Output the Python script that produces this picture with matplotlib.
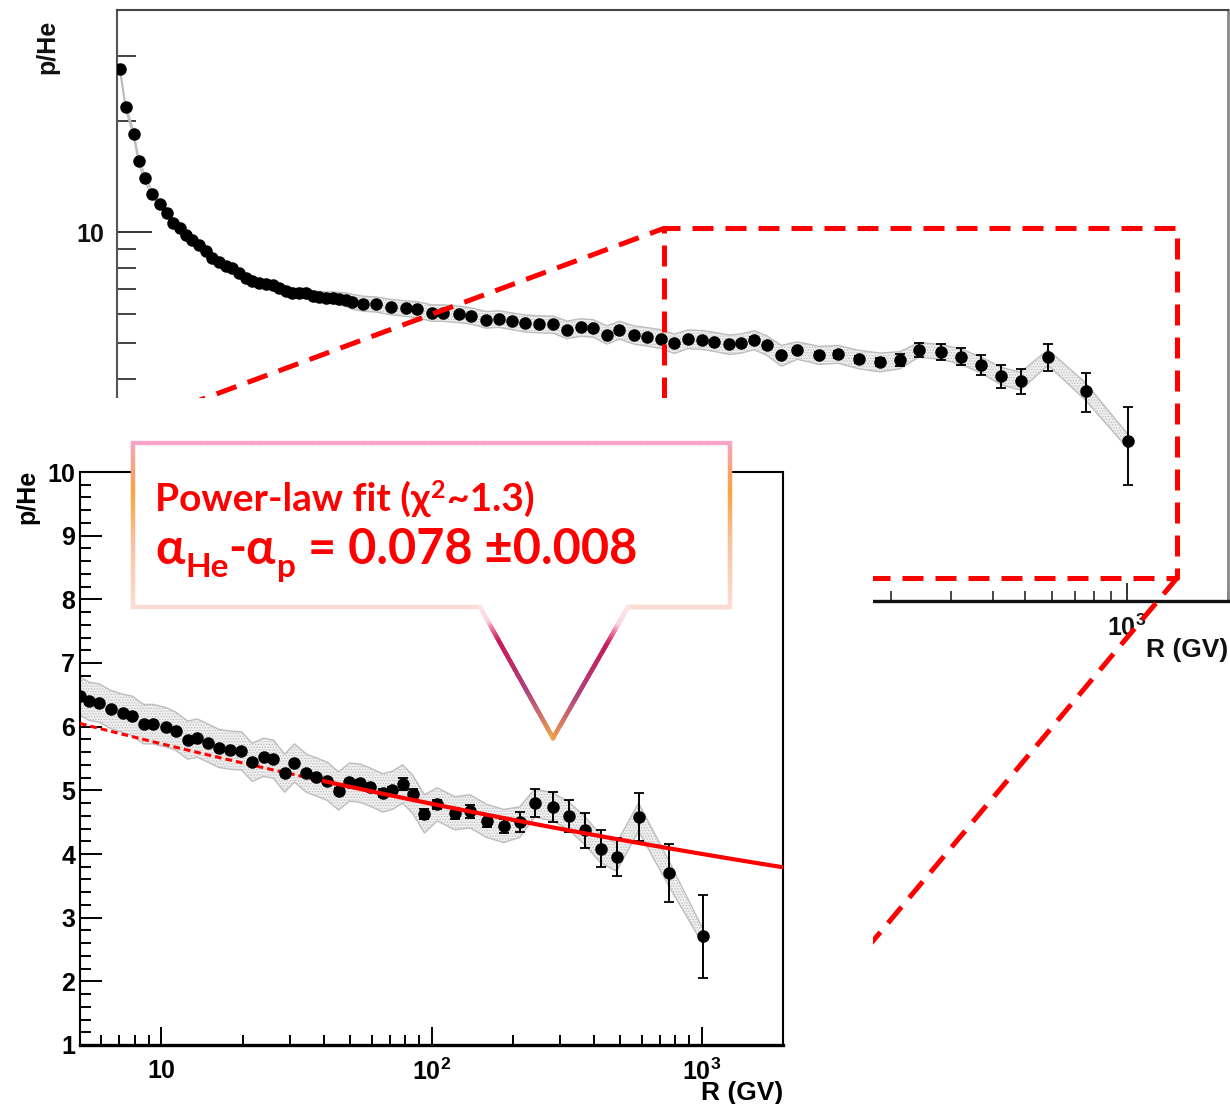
import numpy as np
import matplotlib
matplotlib.use("Agg")
import matplotlib.pyplot as plt
from matplotlib.collections import LineCollection
from matplotlib.colors import LinearSegmentedColormap
from matplotlib.patches import Rectangle, Polygon
from matplotlib.ticker import LogLocator, NullFormatter, MultipleLocator

W, H, DPI = 1230, 1104, 100
plt.rcParams['font.family'] = ['Liberation Sans', 'DejaVu Sans']
plt.rcParams['hatch.linewidth'] = 0.6

# ---------------- data: p/He flux ratio vs rigidity R (GV) ----------------
R_low = [1.02, 1.06, 1.12, 1.16, 1.21, 1.27, 1.34, 1.41, 1.47, 1.54, 1.60, 1.67,
         1.75, 1.84, 1.92, 2.01, 2.11, 2.20, 2.31, 2.42, 2.52, 2.65, 2.78, 2.90,
         3.03, 3.18, 3.32, 3.47, 3.65, 3.81, 3.99, 4.19, 4.37, 4.58, 4.80]
ratio_low = [27.6, 21.9, 18.5, 15.6, 14.0, 12.7, 11.9, 11.3, 10.6, 10.25, 9.8, 9.5,
             9.2, 8.9, 8.5, 8.3, 8.1, 7.97, 7.77, 7.53, 7.39, 7.30, 7.25, 7.20,
             7.07, 6.94, 6.85, 6.85, 6.85, 6.72, 6.68, 6.64, 6.64, 6.60, 6.56]
stat_low = [0.10, 0.08, 0.07, 0.06, 0.05, 0.05, 0.04, 0.04, 0.04, 0.03, 0.03, 0.03,
            0.03, 0.03, 0.03, 0.03, 0.02, 0.02, 0.02, 0.02, 0.02, 0.02, 0.02, 0.02,
            0.02, 0.02, 0.02, 0.02, 0.02, 0.02, 0.02, 0.02, 0.02, 0.02, 0.02]
syst_low = [0.45, 0.38, 0.33, 0.29, 0.26, 0.24, 0.22, 0.21, 0.20, 0.19, 0.18, 0.18,
            0.17, 0.17, 0.17, 0.17, 0.17, 0.17, 0.17, 0.17, 0.18, 0.18, 0.18, 0.18,
            0.19, 0.19, 0.20, 0.20, 0.21, 0.22, 0.23, 0.24, 0.25, 0.26, 0.28]

R_main = [5.0, 5.4, 5.9, 6.5, 7.2, 7.8, 8.6, 9.3, 10.4, 11.3, 12.5, 13.6, 14.9, 16.3,
          18.0, 19.8, 21.7, 23.9, 26.0, 28.6, 31.1, 34.4, 37.5, 41.2, 45.3, 49.7,
          54.6, 59.4, 65.9, 71.7, 78.2, 85.1, 94.2, 105, 122, 139, 160, 185, 212,
          241, 281, 322, 369, 423, 484, 584, 755, 1008]
ratio_main = [6.48, 6.40, 6.37, 6.27, 6.21, 6.17, 6.04, 6.04, 5.99, 5.93, 5.79, 5.82,
              5.74, 5.66, 5.63, 5.62, 5.44, 5.52, 5.49, 5.27, 5.43, 5.27, 5.21, 5.14,
              4.99, 5.13, 5.11, 5.05, 4.96, 5.00, 5.10, 4.94, 4.63, 4.78, 4.64, 4.67,
              4.52, 4.44, 4.50, 4.80, 4.74, 4.60, 4.37, 4.08, 3.95, 4.58, 3.70, 2.71]
stat_main = [0.02, 0.02, 0.02, 0.02, 0.02, 0.02, 0.02, 0.02, 0.02, 0.02, 0.02, 0.02,
             0.02, 0.02, 0.02, 0.02, 0.03, 0.03, 0.03, 0.03, 0.03, 0.03, 0.03, 0.03,
             0.04, 0.04, 0.05, 0.05, 0.06, 0.06, 0.10, 0.08, 0.08, 0.07, 0.09, 0.10,
             0.10, 0.11, 0.16, 0.22, 0.23, 0.25, 0.27, 0.29, 0.30, 0.38, 0.45, 0.65]
syst_main = [0.30, 0.30, 0.30, 0.30, 0.30, 0.31, 0.31, 0.31, 0.31, 0.30, 0.30, 0.30,
             0.30, 0.30, 0.30, 0.30, 0.30, 0.30, 0.30, 0.30, 0.30, 0.30, 0.30, 0.30,
             0.30, 0.30, 0.30, 0.30, 0.30, 0.30, 0.30, 0.30, 0.30, 0.26, 0.26, 0.26,
             0.26, 0.26, 0.24, 0.22, 0.22, 0.22, 0.22, 0.22, 0.22, 0.22, 0.20, 0.12]

# power-law fit  ratio = norm * (R / pivot)^(-index)
fit_index = 0.078
fit_norm = 6.05
fit_pivot = 5.0
fit_start = 40.0

top_xlim = (1, 2000)
top_ylim = (1, 40)
low_xlim = (5, 2000)
low_ylim = (1, 10)
dec_ticks = [1, 10, 100, 1000]
dec_labels = [r'$\mathregular{1}$', r'$\mathregular{10}$', r'$\mathregular{10^{2}}$',
              r'$\mathregular{10^{3}}$']
lin_ticks = [1, 2, 3, 4, 5, 6, 7, 8, 9, 10]

R_all = R_low + R_main
ratio_all = ratio_low + ratio_main
stat_all = stat_low + stat_main
syst_all = syst_low + syst_main

fig = plt.figure(figsize=(W / DPI, H / DPI), dpi=DPI)
fig.patch.set_facecolor('white')


def px_axes(l, t, r, b, **kw):
    return fig.add_axes([l / W, 1 - b / H, (r - l) / W, (b - t) / H], **kw)


def draw_data(ax, R, y, st, sy):
    R = np.asarray(R); y = np.asarray(y); sy = np.asarray(sy)
    ax.fill_between(R, y - sy, y + sy, facecolor='#efefef', edgecolor='#bdbdbd',
                    hatch='......', linewidth=1.0, zorder=2)
    ax.errorbar(R, y, yerr=st, fmt='o', color='black', ms=8, elinewidth=1.4,
                capsize=3.5, capthick=1.3, zorder=4)


# ---------------- background (full range) plot ----------------
ax1 = px_axes(117, 10, 1228, 601)
ax1.set_zorder(0)
ax1.set_xscale('log'); ax1.set_yscale('log')
ax1.set_xlim(*top_xlim); ax1.set_ylim(*top_ylim)
draw_data(ax1, R_all, ratio_all, stat_all, syst_all)
ax1.set_xticks(dec_ticks, dec_labels)
ax1.set_yticks([1, 10], ['1', '10'])
ax1.xaxis.set_minor_locator(LogLocator(base=10, subs=np.arange(2, 10)))
ax1.yaxis.set_minor_locator(LogLocator(base=10, subs=np.arange(2, 10)))
ax1.xaxis.set_minor_formatter(NullFormatter())
ax1.yaxis.set_minor_formatter(NullFormatter())
ax1.tick_params(axis='x', which='major', direction='in', length=13, width=1.4,
                pad=10, colors='#333333', labelcolor='#111111', labelsize=18)
ax1.tick_params(axis='x', which='minor', direction='in', length=7.2, width=1.4,
                colors='#444444')
ax1.tick_params(axis='y', which='major', direction='in', length=25, width=1.4,
                pad=9, colors='#333333', labelcolor='#111111', labelsize=18)
ax1.tick_params(axis='y', which='minor', direction='in', length=13.5, width=1.4,
                colors='#444444')
for lab in ax1.get_xticklabels() + ax1.get_yticklabels():
    lab.set_fontweight('bold')
for side, c, lw in [('left', '#555555', 1.5), ('top', '#444444', 1.5),
                    ('right', '#888888', 2.0), ('bottom', '#111111', 2.4)]:
    ax1.spines[side].set_color(c); ax1.spines[side].set_linewidth(lw)
fig.text(47 / W, 1 - 20 / H, 'p/He', rotation=90, ha='center', va='top',
         fontsize=18, fontweight='bold', color='#111111')
fig.text(1228 / W, 1 - 650 / H, 'R (GV)', ha='right', va='center',
         fontsize=19, fontweight='bold', color='#111111')

# ---------------- zoom markers + white cover ----------------
ov1 = fig.add_axes([0, 0, 1, 1])
ov1.set_zorder(1)
ov1.set_xlim(0, W); ov1.set_ylim(H, 0); ov1.axis('off'); ov1.patch.set_visible(False)
dash = dict(color='#ff0000', lw=3.6, dashes=(4.2, 2.4), solid_capstyle='butt',
            dash_capstyle='butt')
ov1.plot([0, 665], [474, 228], **dash)
ov1.plot([664, 664, 1177, 1177, 664], [398, 228, 228, 578, 578], **dash)
ov1.plot([1177, 780], [578, 1052], **dash)
ov1.add_patch(Rectangle((0, 398), 873, H - 398, facecolor='white', edgecolor='none',
                        zorder=10))

# ---------------- inset (linear y) plot ----------------
ax2 = px_axes(80, 472, 783, 1045)
ax2.set_zorder(2)
ax2.set_facecolor('white')
ax2.set_xscale('log')
ax2.set_xlim(*low_xlim); ax2.set_ylim(*low_ylim)
draw_data(ax2, R_main, ratio_main, stat_main, syst_main)
Rf_d = np.geomspace(low_xlim[0], fit_start, 60)
Rf_s = np.geomspace(fit_start, low_xlim[1], 120)
ax2.plot(Rf_d, fit_norm * (Rf_d / fit_pivot) ** (-fit_index), color='#ff0000',
         lw=2.2, dashes=(2.2, 1.3), zorder=3)
ax2.plot(Rf_s, fit_norm * (Rf_s / fit_pivot) ** (-fit_index), color='#ff0000',
         lw=3.0, zorder=5)
ax2.set_xticks(dec_ticks[1:], dec_labels[1:])
ax2.set_yticks(lin_ticks, [str(v) for v in lin_ticks])
ax2.xaxis.set_minor_locator(LogLocator(base=10, subs=np.arange(2, 10)))
ax2.xaxis.set_minor_formatter(NullFormatter())
ax2.yaxis.set_minor_locator(MultipleLocator(0.2))
ax2.tick_params(axis='x', which='major', direction='in', length=13, width=1.4,
                pad=10, labelsize=18)
ax2.tick_params(axis='x', which='minor', direction='in', length=7.2, width=1.4)
ax2.tick_params(axis='y', which='major', direction='in', length=16, width=1.4,
                pad=3.5, labelsize=18)
ax2.tick_params(axis='y', which='minor', direction='in', length=8, width=1.4)
for lab in ax2.get_xticklabels() + ax2.get_yticklabels():
    lab.set_fontweight('bold')
for side in ['left', 'top', 'right']:
    ax2.spines[side].set_linewidth(1.5)
ax2.spines['bottom'].set_linewidth(2.4)
fig.text(27 / W, 1 - 470 / H, 'p/He', rotation=90, ha='center', va='top',
         fontsize=18, fontweight='bold', zorder=20)
fig.text(783 / W, 1 - 1093 / H, 'R (GV)', ha='right', va='center',
         fontsize=19, fontweight='bold', zorder=20)

# ---------------- callout ----------------
ov2 = fig.add_axes([0, 0, 1, 1])
ov2.set_zorder(3)
ov2.set_xlim(0, W); ov2.set_ylim(H, 0); ov2.axis('off'); ov2.patch.set_visible(False)
bx0, bx1, by0, by1 = 133, 730, 443, 607
px0, px1, tipx, tipy = 480, 628, 553, 738
ov2.add_patch(Polygon([(bx0, by0), (bx1, by0), (bx1, by1), (px1, by1), (tipx, tipy),
                       (px0, by1), (bx0, by1)], closed=True, facecolor='white',
                      edgecolor='none'))

side_cmap = LinearSegmentedColormap.from_list(
    'side', [(0, '#f9a3c8'), (0.3, '#f4a540'), (0.6, '#f7c09a'), (1, '#fcdcd2')])
ptr_cmap = LinearSegmentedColormap.from_list(
    'ptr', [(0, '#fde6ec'), (0.12, '#fbd3df'), (0.17, '#f27aa5'), (0.27, '#c8185c'),
            (0.45, '#c02a66'), (0.65, '#ad4280'), (0.82, '#cc6a6c'), (1, '#f2a24a')])


def grad_line(ax, pts, cmap, y0, y1, lw, n=80):
    pts = np.asarray(pts, float)
    segs, cols = [], []
    for (xa, ya), (xb, yb) in zip(pts[:-1], pts[1:]):
        t = np.linspace(0, 1, n + 1)
        xs = xa + (xb - xa) * t
        ys = ya + (yb - ya) * t
        for i in range(n):
            segs.append([(xs[i], ys[i]), (xs[i + 1], ys[i + 1])])
            ym = 0.5 * (ys[i] + ys[i + 1])
            cols.append(cmap(np.clip((ym - y0) / (y1 - y0), 0, 1)))
    ax.add_collection(LineCollection(segs, colors=cols, linewidths=lw,
                                     capstyle='projecting'))


grad_line(ov2, [(bx0, by0), (bx1, by0)], side_cmap, by0, by1, 3.0)
grad_line(ov2, [(bx0, by0), (bx0, by1)], side_cmap, by0, by1, 3.0)
grad_line(ov2, [(bx1, by0), (bx1, by1)], side_cmap, by0, by1, 3.0)
grad_line(ov2, [(bx0, by1), (px0, by1)], side_cmap, by0, by1, 3.0)
grad_line(ov2, [(px1, by1), (bx1, by1)], side_cmap, by0, by1, 3.0)
grad_line(ov2, [(px0, by1), (tipx, tipy), (px1, by1)], ptr_cmap, by1, tipy, 3.0)

renderer = fig.canvas.get_renderer()
CALLFAM = ['Lato', 'Open Sans', 'DejaVu Sans']


def text_runs(ax, x0, ybase, runs):
    x = x0
    for s, size, dy, gap in runs:
        x += gap
        t = ax.text(x, ybase - dy, s, fontsize=size, color='#ff0000', family=CALLFAM,
                    fontweight='bold', ha='left', va='baseline')
        x += t.get_window_extent(renderer=renderer).width


text_runs(ov2, 155, 511, [('Power-law fit (χ', 28, 0, 0), ('2', 18, 13, 1),
                          ('~1.3)', 28, 0, 1)])
text_runs(ov2, 155, 564, [('α', 35, 0, 0), ('He', 24, -13, 1), ('-α', 35, 0, 0),
                          ('p', 24, -13, 1), ('= 0.078 ±0.008', 35, 0, 12)])

fig.savefig('out.png', dpi=DPI, facecolor='white')
